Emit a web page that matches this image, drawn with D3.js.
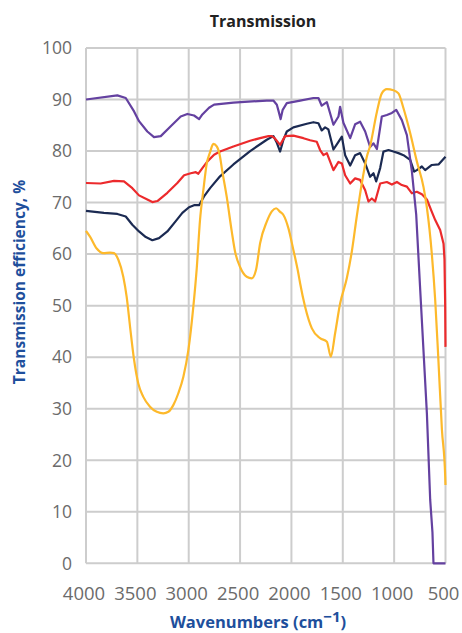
<!DOCTYPE html>
<html>
<head>
<meta charset="utf-8">
<script src="https://cdn.jsdelivr.net/npm/d3@7"></script>
<style>
  html, body { margin: 0; padding: 0; background: #fff; }
  svg { display: block; font-family: "Open Sans", "DejaVu Sans", sans-serif; }
</style>
</head>
<body>
<svg id="chart" width="462" height="633"></svg>
<script>
// Axis ticks
const xTicks = [4000, 3500, 3000, 2500, 2000, 1500, 1000, 500];
const yTicks = [0, 10, 20, 30, 40, 50, 60, 70, 80, 90, 100];

// Spectra: [wavenumber (cm-1), transmission (%)]
const violet = [
  [4000, 90.0], [3695, 90.8], [3613, 90.3], [3532, 87.7], [3484, 85.8], [3403, 83.8],
  [3338, 82.7], [3272, 82.9], [3175, 84.8], [3078, 86.7], [3013, 87.2], [2948, 86.9],
  [2899, 86.2], [2867, 87.1], [2802, 88.4], [2753, 89.0], [2565, 89.4], [2240, 89.8],
  [2176, 89.8], [2142, 89.0], [2127, 87.9], [2105, 86.2], [2085, 88.0], [2045, 89.3],
  [1915, 89.8], [1786, 90.3], [1737, 90.3], [1705, 88.8], [1655, 89.5], [1591, 85.1],
  [1542, 86.7], [1526, 88.6], [1494, 85.5], [1428, 82.5], [1380, 85.2], [1331, 85.7],
  [1282, 83.8], [1234, 80.8], [1201, 81.5], [1168, 80.4], [1120, 86.7], [1071, 87.0],
  [1022, 87.4], [980, 88.0], [925, 86.0], [876, 83.1], [827, 76.0], [785, 67.6],
  [746, 53.0], [681, 29.0], [649, 12.3], [627, 6.0], [617, 0], [500, 0]
];

const navy = [
  [4000, 68.4], [3825, 68.0], [3695, 67.8], [3613, 67.3], [3549, 65.7], [3484, 64.4],
  [3418, 63.3], [3354, 62.7], [3289, 63.1], [3208, 64.4], [3126, 66.4], [3062, 68.0],
  [2997, 69.1], [2948, 69.5], [2899, 69.5], [2851, 71.2], [2792, 72.8], [2695, 75.1],
  [2565, 77.4], [2402, 80.0], [2240, 82.2], [2176, 82.9], [2142, 81.6], [2110, 79.9],
  [2078, 82.2], [2045, 83.8], [1981, 84.6], [1850, 85.3], [1786, 85.6], [1737, 85.4],
  [1705, 84.0], [1672, 84.6], [1640, 84.2], [1591, 80.3], [1542, 81.8], [1509, 82.8],
  [1477, 79.2], [1428, 77.2], [1380, 79.2], [1331, 79.6], [1282, 77.6], [1234, 75.0],
  [1201, 75.7], [1175, 74.1], [1136, 76.7], [1104, 79.9], [1055, 80.2], [1007, 79.9],
  [958, 79.6], [909, 79.2], [844, 78.3], [805, 76.0], [779, 76.3], [730, 77.0],
  [698, 76.3], [633, 77.3], [568, 77.4], [500, 78.9]
];

const red = [
  [4000, 73.8], [3858, 73.7], [3727, 74.2], [3630, 74.1], [3549, 72.8], [3484, 71.4],
  [3403, 70.6], [3354, 70.1], [3305, 70.3], [3208, 71.9], [3111, 73.8], [3045, 75.3],
  [2980, 75.7], [2931, 75.9], [2906, 75.6], [2867, 76.7], [2818, 78.0], [2753, 79.3],
  [2695, 79.9], [2565, 80.9], [2402, 82.0], [2305, 82.5], [2224, 82.9], [2191, 82.9],
  [2159, 82.4], [2110, 81.2], [2062, 82.9], [1981, 83.0], [1883, 82.5], [1818, 82.1],
  [1753, 81.8], [1721, 80.2], [1688, 79.2], [1655, 79.6], [1591, 76.3], [1542, 77.9],
  [1509, 77.6], [1477, 75.3], [1428, 73.7], [1380, 74.7], [1331, 74.4], [1282, 72.4],
  [1250, 70.2], [1217, 70.8], [1185, 70.2], [1136, 73.7], [1071, 74.0], [1022, 73.5],
  [973, 74.0], [925, 73.4], [876, 73.1], [827, 71.8], [779, 72.1], [730, 71.6],
  [681, 70.6], [633, 68.2], [600, 66.6], [552, 64.7], [519, 62.0], [510, 59.0],
  [503, 50.0], [500, 42.0]
];

const amber = [
  [4000, 64.5], [3961, 63.4], [3896, 61.1], [3831, 60.2], [3766, 60.3], [3727, 60.2],
  [3685, 58.9], [3637, 55.6], [3604, 51.7], [3571, 45.9], [3532, 39.5], [3491, 34.9],
  [3442, 32.3], [3377, 30.4], [3311, 29.4], [3247, 29.1], [3198, 29.4], [3150, 30.7],
  [3101, 33.0], [3052, 36.2], [3003, 41.4], [2955, 49.8], [2922, 57.2], [2890, 66.6],
  [2857, 72.5], [2824, 77.6], [2792, 79.8], [2760, 81.4], [2727, 80.9], [2695, 78.9],
  [2678, 76.7], [2629, 71.0], [2581, 64.4], [2549, 60.5], [2500, 57.5], [2435, 55.6],
  [2386, 55.3], [2344, 57.0], [2305, 62.1], [2240, 66.3], [2191, 68.3], [2149, 68.9],
  [2110, 68.2], [2078, 67.6], [2029, 65.0], [1981, 60.8], [1932, 56.2], [1915, 54.3],
  [1867, 49.8], [1801, 45.6], [1721, 43.7], [1655, 43.0], [1616, 40.1], [1575, 44.6],
  [1526, 50.4], [1461, 55.3], [1412, 60.5], [1364, 67.3], [1315, 73.7], [1266, 78.9],
  [1234, 81.0], [1168, 87.6], [1120, 91.2], [1071, 92.0], [1007, 91.8], [958, 91.2],
  [909, 88.3], [844, 83.5], [779, 78.0], [714, 73.0], [681, 69.0], [633, 60.0],
  [600, 51.0], [568, 39.0], [535, 26.0], [503, 17.0], [500, 15.2]
];

const series = [
  { data: navy,   color: "#1b2a52", smooth: false },
  { data: red,    color: "#ec2a2c", smooth: false },
  { data: violet, color: "#6441a0", smooth: false },
  { data: amber,  color: "#fdb92b", smooth: true }
];

const svg = d3.select("#chart");
const x = d3.scaleLinear().domain([4000, 500]).range([86, 445.5]);
const y = d3.scaleLinear().domain([0, 100]).range([563.3, 48]);

// Grid
const grid = svg.append("g").attr("stroke", "#cdcdcd").attr("stroke-width", 2);
grid.selectAll("line.v").data(xTicks).join("line")
  .attr("class", "v")
  .attr("x1", d => x(d)).attr("x2", d => x(d))
  .attr("y1", y(100)).attr("y2", y(0));
grid.selectAll("line.h").data(yTicks).join("line")
  .attr("class", "h")
  .attr("x1", x(4000)).attr("x2", x(500))
  .attr("y1", d => y(d)).attr("y2", d => y(d));

// Tick labels
svg.append("g").selectAll("text").data(yTicks).join("text")
  .attr("x", 72).attr("y", d => y(d))
  .attr("dy", "0.36em")
  .attr("text-anchor", "end")
  .attr("font-size", 17.5)
  .attr("fill", "#6b6b6b")
  .text(d => d);

svg.append("g").selectAll("text").data(xTicks).join("text")
  .attr("x", d => x(d) - 2).attr("y", 599.5)
  .attr("text-anchor", "middle")
  .attr("font-size", 18.5)
  .attr("fill", "#6b6b6b")
  .text(d => d);

// Spectra
const straight = d3.line().x(d => x(d[0])).y(d => y(d[1]));
const smooth = d3.line().x(d => x(d[0])).y(d => y(d[1])).curve(d3.curveMonotoneX);
svg.append("g").selectAll("path").data(series).join("path")
  .attr("d", d => (d.smooth ? smooth : straight)(d.data))
  .attr("fill", "none")
  .attr("stroke", d => d.color)
  .attr("stroke-width", 2.2)
  .attr("stroke-linejoin", "round");

// Titles
svg.append("text")
  .attr("x", 263).attr("y", 27)
  .attr("text-anchor", "middle")
  .attr("font-size", 16).attr("font-weight", 700)
  .attr("fill", "#222")
  .text("Transmission");

const xt = svg.append("text")
  .attr("x", 258).attr("y", 628)
  .attr("text-anchor", "middle")
  .attr("font-size", 16.5).attr("font-weight", 700)
  .attr("fill", "#1e4f9c");
xt.append("tspan").text("Wavenumbers (cm");
xt.append("tspan").attr("dy", -6).attr("font-size", 15).text("\u22121");
xt.append("tspan").attr("dy", 6).text(")");

svg.append("text")
  .attr("transform", "translate(25,282) rotate(-90)")
  .attr("text-anchor", "middle")
  .attr("font-size", 15.5).attr("font-weight", 700)
  .attr("fill", "#1e4f9c")
  .text("Transmission efficiency, %");
</script>
</body>
</html>
